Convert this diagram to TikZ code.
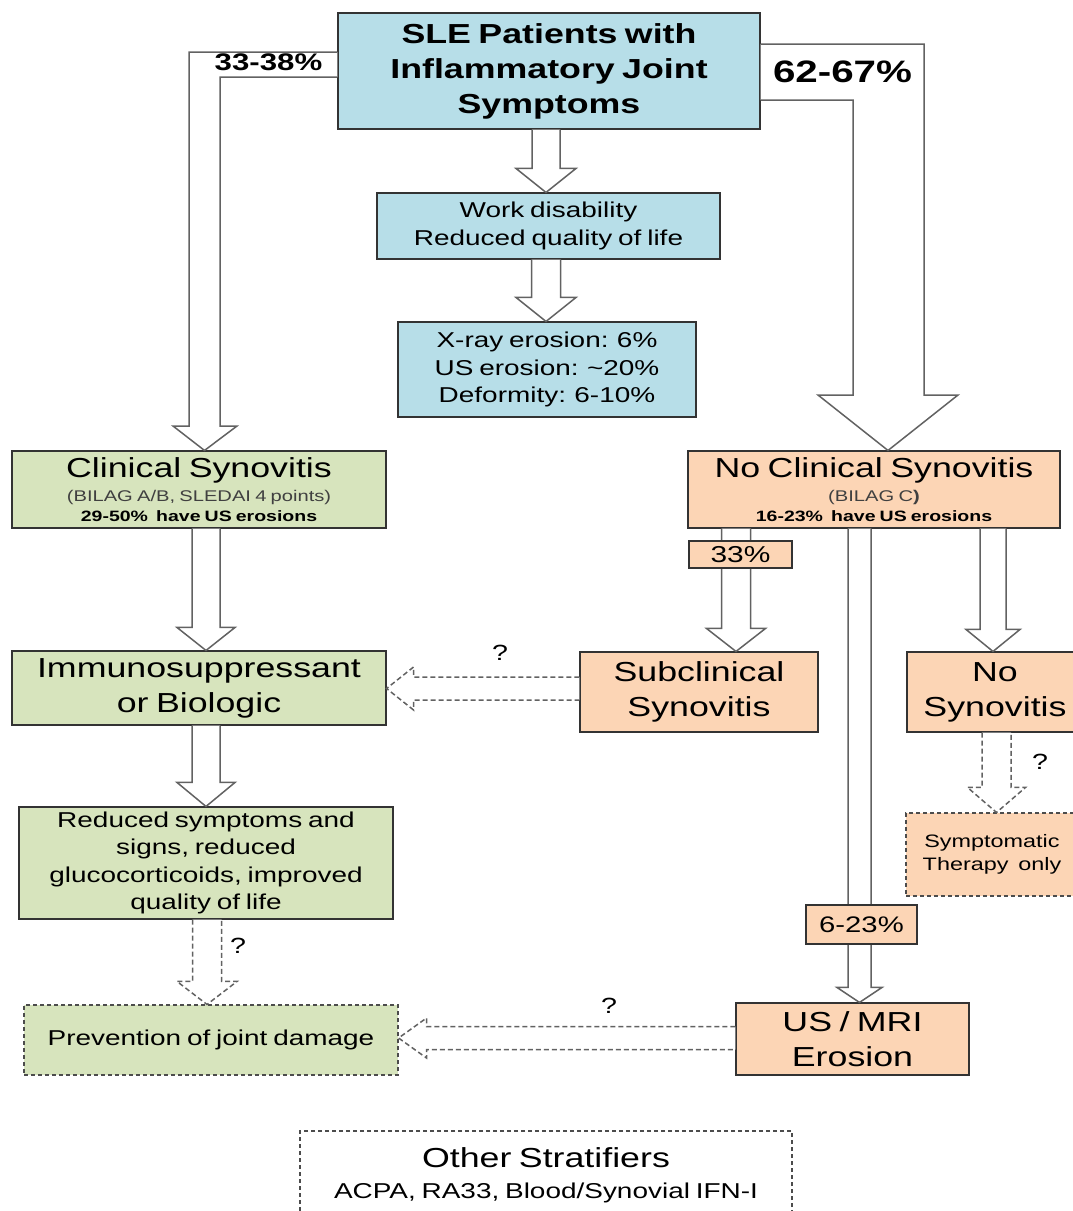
\documentclass[tikz,border=0pt]{standalone}
\usepackage{fontspec}
\setmainfont{Liberation Sans}[FakeStretch=1.3, WordSpace=0.75]
\usetikzlibrary{calc}

\definecolor{boxblue}{HTML}{B7DEE8}
\definecolor{boxgreen}{HTML}{D7E4BD}
\definecolor{boxorange}{HTML}{FCD5B5}
\definecolor{arrgray}{HTML}{626262}

% hollow arrow down: [opts]{x}{from}{to}{shaft half}{head half}{head length}
\newcommand{\vhollow}[7][]{%
  \draw[hollow,#1] let \p0=(#2,0), \p1=(#3), \p2=(#4) in
    (\x0-#5pt,\y1) -- (\x0-#5pt,\y2+#7pt) -- (\x0-#6pt,\y2+#7pt) -- (\x0,\y2)
    -- (\x0+#6pt,\y2+#7pt) -- (\x0+#5pt,\y2+#7pt) -- (\x0+#5pt,\y1);}
% hollow arrow to the left: [opts]{y}{from}{to}{shaft half}{head half}{head length}
\newcommand{\hhollow}[7][]{%
  \draw[hollow,#1] let \p0=(0,#2), \p1=(#3), \p2=(#4) in
    (\x1,\y0+#5pt) -- (\x2+#7pt,\y0+#5pt) -- (\x2+#7pt,\y0+#6pt) -- (\x2,\y0)
    -- (\x2+#7pt,\y0-#6pt) -- (\x2+#7pt,\y0-#5pt) -- (\x1,\y0-#5pt);}

\begin{document}
\begin{tikzpicture}[x=1pt, y=-1pt,
  box/.style={draw=black!80, line width=1.1pt, align=center, inner sep=0pt},
  dashbox/.style={draw=black!70, dash pattern=on 4pt off 3pt},
  big/.style={font=\fontsize{27.5}{35}\selectfont},
  med/.style={font=\fontsize{21.5}{27.5}\selectfont},
  qmark/.style={font=\fontsize{22}{26}\selectfont},
  hollow/.style={draw=arrgray, line width=1.5pt, fill=white},
  dasharrow/.style={dash pattern=on 5pt off 3pt}]
  \useasboundingbox (0,0) rectangle (1072,1211);

  % boxes
  \node[box, fill=boxblue, minimum width=422pt, minimum height=116pt,
        font=\bfseries\fontsize{27.5}{35}\selectfont] (sle) at (549,71)
        {SLE Patients with\\Inflammatory Joint\\Symptoms};
  \node[box, fill=boxblue, med, minimum width=343pt, minimum height=66pt] (work) at (548.5,226)
        {Work disability\\Reduced quality of life};
  \node[box, fill=boxblue, med, minimum width=298pt, minimum height=95pt] (xray) at (547,369.5)
        {X-ray erosion: 6\%\\US erosion: \textasciitilde20\%\\Deformity: 6-10\%};
  \node[box, fill=boxgreen, minimum width=374pt, minimum height=77pt,
        font=\fontsize{27.5}{20}\selectfont] (clin) at (199,489.5)
        {Clinical Synovitis\\[4pt]{\fontsize{15.5}{18}\selectfont\color{black!75}(BILAG A/B, SLEDAI 4 points)}\\
         {\fontsize{15}{18}\selectfont\bfseries 29-50\%\ \ have US erosions}};
  \node[box, fill=boxorange, minimum width=372pt, minimum height=77pt,
        font=\fontsize{27.5}{20}\selectfont] (noclin) at (874,489.5)
        {No Clinical Synovitis\\[4pt]{\fontsize{15.5}{18}\selectfont\color{black!75}(BILAG C\textbf{)}}\\
         {\fontsize{15}{18}\selectfont\bfseries 16-23\%\ \ have US erosions}};
  \node[box, fill=boxgreen, big, minimum width=374pt, minimum height=74pt] (immuno) at (199,688)
        {Immunosuppressant\\or Biologic};
  \node[box, fill=boxorange, big, minimum width=238pt, minimum height=80pt] (subclin) at (699,692)
        {Subclinical\\Synovitis};
  \node[box, fill=boxorange, big, minimum width=176pt, minimum height=80pt] (nosyn) at (995,692)
        {No\\Synovitis};
  \node[box, fill=boxgreen, med, minimum width=374pt, minimum height=112pt] (reduced) at (206,863)
        {Reduced symptoms and\\signs, reduced\\glucocorticoids, improved\\quality of life};
  \node[box, dashbox, fill=boxorange, font=\fontsize{18}{23}\selectfont,
        minimum width=172pt, minimum height=83pt] (sympt) at (992,854.5)
        {Symptomatic\\Therapy\ \ only};
  \node[box, dashbox, fill=boxgreen, font=\fontsize{21.5}{26}\selectfont,
        minimum width=374pt, minimum height=70pt] (prev) at (211,1040)
        {Prevention of joint damage};
  \node[box, fill=boxorange, big, minimum width=233pt, minimum height=72pt] (usmri) at (852.5,1039)
        {US / MRI\\Erosion};
  \node[box, dashbox, minimum width=492pt, minimum height=88pt,
        font=\fontsize{27.5}{31}\selectfont] (other) at (546,1175)
        {Other Stratifiers\\{\fontsize{21.5}{26}\selectfont ACPA, RA33, Blood/Synovial IFN-I}};

  % split arrows from the top box
  \draw[hollow] (sle.west |- 0,52) -- (189,52) -- (189,426) -- (173,426)
    -- (clin.north -| 204.5,0) -- (237,426) -- (220,426) -- (220,77) -- (sle.west |- 0,77);
  \draw[hollow] (sle.east |- 0,44) -- (924,44) -- (924,395) -- (958,395)
    -- (noclin.north -| 888,0) -- (818,395) -- (853,395) -- (853,100) -- (sle.east |- 0,100);
  \node[font=\bfseries\fontsize{24}{28}\selectfont] (pct1) at (268.5,62) {33-38\%};
  \node[font=\bfseries\fontsize{31}{36}\selectfont] (pct2) at (842.5,72) {62-67\%};

  % arrows
  \vhollow{546}{sle.south}{work.north}{14}{30}{24}
  \vhollow{546}{work.south}{xray.north}{14.5}{30}{24}
  \vhollow{206}{clin.south}{immuno.north}{14}{29}{23}
  \vhollow{206}{immuno.south}{reduced.north}{14}{29}{24}
  \vhollow[dasharrow]{207}{reduced.south}{prev.north}{14.5}{30}{23}
  \vhollow{736}{noclin.south}{subclin.north}{14.5}{29.5}{23}
  \vhollow{859.5}{noclin.south}{usmri.north}{11.5}{22.5}{15}
  \vhollow{993}{noclin.south}{nosyn.north}{13}{27}{22}
  \vhollow[dasharrow]{996.5}{nosyn.south}{sympt.north}{14.5}{29}{25}
  \hhollow[dasharrow]{688.5}{subclin.west}{immuno.east}{11.5}{21.5}{27}
  \hhollow[dasharrow]{1038}{usmri.west}{prev.east}{11.5}{20}{28}

  % percentages on the arrows
  \node[box, fill=boxorange, font=\fontsize{23}{27}\selectfont,
        minimum width=103pt, minimum height=27pt] (pct33) at (740.5,554.5) {33\%};
  \node[box, fill=boxorange, font=\fontsize{22.5}{27}\selectfont,
        minimum width=111pt, minimum height=39pt] (pct623) at (861.5,924.5) {6-23\%};

  % question marks
  \node[qmark] (q1) at (500,653) {?};
  \node[qmark] (q2) at (238,946) {?};
  \node[qmark] (q3) at (1040,762) {?};
  \node[qmark] (q4) at (609,1006) {?};
\end{tikzpicture}
\end{document}
